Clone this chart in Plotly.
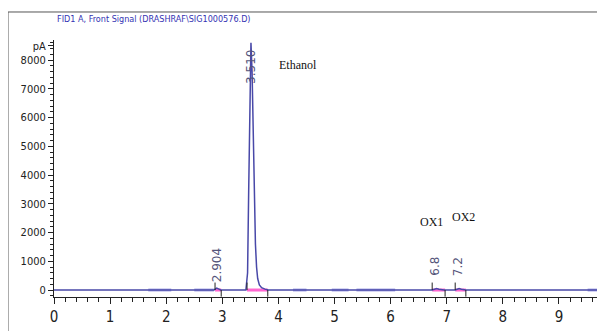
import plotly.graph_objects as go

# ---- data ----
time_min = [0.0, 2.85, 2.88, 2.90, 2.93, 2.97, 3.42, 3.45, 3.47, 3.49, 3.51, 3.53,
            3.55, 3.57, 3.59, 3.61, 3.63, 3.66, 3.70, 3.76, 3.82, 6.74, 6.79, 6.82,
            6.86, 6.95, 7.15, 7.19, 7.22, 7.26, 7.34, 9.82]
signal_pA = [0, 0, 40, 70, 40, 0, 0, 600, 3500, 7200, 8600, 7600,
             5200, 3000, 1600, 800, 400, 180, 80, 30, 0, 0, 40, 50,
             30, 0, 0, 40, 55, 30, 0, 0]

peak_labels = ["2.904", "3.510", "6.8", "7.2"]
peak_rt = [2.904, 3.510, 6.80, 7.20]
peak_label_y = [200, 7100, 430, 430]
peak_start = [2.87, 3.44, 6.74, 7.15]
peak_end = [2.98, 3.81, 6.97, 7.34]

event_start = [1.68, 2.50, 4.26, 4.95, 5.39, 9.51]
event_end = [2.09, 2.85, 4.50, 5.25, 6.08, 9.82]

compound_names = ["Ethanol", "OX1", "OX2"]
compound_x = [3.97, 6.72, 7.29]
compound_y = [7830, 2365, 2540]

x_ticks = [0, 1, 2, 3, 4, 5, 6, 7, 8, 9]
y_ticks = [0, 1000, 2000, 3000, 4000, 5000, 6000, 7000, 8000, 8500]
y_ticktext = ["0", "1000", "2000", "3000", "4000", "5000", "6000", "7000", "8000", "pA"]

title_text = "FID1 A, Front Signal (DRASHRAF\\SIG1000576.D)"

NARROW = "Liberation Sans Narrow, DejaVu Sans Condensed, Arial Narrow, sans-serif"

fig = go.Figure()

# light event segments on the baseline
for s, e in zip(event_start, event_end):
    fig.add_trace(go.Scatter(x=[s, e], y=[0, 0], mode="lines",
                             line=dict(color="#aaaae6", width=3),
                             hoverinfo="skip", showlegend=False))

# pink integration baselines
for s, e in zip(peak_start, peak_end):
    fig.add_trace(go.Scatter(x=[s, e], y=[0, 0], mode="lines",
                             line=dict(color="#ff66d0", width=3),
                             hoverinfo="skip", showlegend=False))

# main signal
fig.add_trace(go.Scatter(x=time_min, y=signal_pA, mode="lines",
                         line=dict(color="#4848a8", width=1.5),
                         showlegend=False))

# peak start / end tick marks
for s, e in zip(peak_start, peak_end):
    fig.add_trace(go.Scatter(x=[s, s], y=[0, 260], mode="lines",
                             line=dict(color="#222222", width=1),
                             hoverinfo="skip", showlegend=False))
    fig.add_trace(go.Scatter(x=[e, e], y=[0, -230], mode="lines",
                             line=dict(color="#222222", width=1),
                             hoverinfo="skip", showlegend=False))

# peak retention time labels (rotated)
for t, x, y in zip(peak_labels, peak_rt, peak_label_y):
    fig.add_annotation(x=x, y=y, text=t, textangle=-90, showarrow=False,
                       xanchor="center", yanchor="bottom",
                       font=dict(family="DejaVu Sans, sans-serif", size=12, color="#55557a"))

# compound names
for t, x, y in zip(compound_names, compound_x, compound_y):
    fig.add_annotation(x=x, y=y, text=t, showarrow=False,
                       xanchor="left" if t == "Ethanol" else "center", yanchor="middle",
                       font=dict(family="Liberation Serif, Times New Roman, serif", size=12, color="#111111"))

# title
fig.add_annotation(x=0.002, y=1.082, xref="paper", yref="paper", text=title_text,
                   showarrow=False, xanchor="left", yanchor="middle",
                   font=dict(family=NARROW, size=9, color="#3333b3"))

# axis unit at the right end of the x axis (clipped by the window)
fig.add_annotation(x=0.99, y=-0.07, xref="paper", yref="paper", text="min",
                   showarrow=False, xanchor="left", yanchor="middle",
                   font=dict(family=NARROW, size=15, color="#222222"))

# outer frame lines
fig.add_shape(type="line", xref="paper", yref="paper", x0=-0.0835, x1=-0.0835,
              y0=1.109, y1=-0.2, line=dict(color="#555555", width=1))
fig.add_shape(type="line", xref="paper", yref="paper", x0=-0.0835, x1=1.05,
              y0=1.109, y1=1.109, line=dict(color="#555555", width=1))

# the page body has an 8px margin, so the figure is 8px smaller than the window
fig.update_layout(
    width=597, height=323,
    margin=dict(l=46, r=0, t=32, b=34, autoexpand=False),
    paper_bgcolor="white", plot_bgcolor="white",
    xaxis=dict(range=[0, 9.82], showline=True, linecolor="#222222", linewidth=1,
               automargin=False,
               ticks="outside", ticklen=6, tickcolor="#222222",
               tickvals=x_ticks, showgrid=False, zeroline=False,
               minor=dict(dtick=0.2, tick0=0, ticks="outside", ticklen=4, tickcolor="#222222"),
               tickfont=dict(family=NARROW, size=15, color="#222222")),
    yaxis=dict(range=[-243, 8700], showline=True, linecolor="#222222", linewidth=1,
               automargin=False,
               ticks="outside", ticklen=5, tickcolor="#222222",
               tickvals=y_ticks, ticktext=y_ticktext, showgrid=False, zeroline=False,
               minor=dict(dtick=200, tick0=0, ticks="outside", ticklen=3, tickcolor="#222222"),
               tickfont=dict(family=NARROW, size=11, color="#222222")),
)

fig.write_html("out.html")
